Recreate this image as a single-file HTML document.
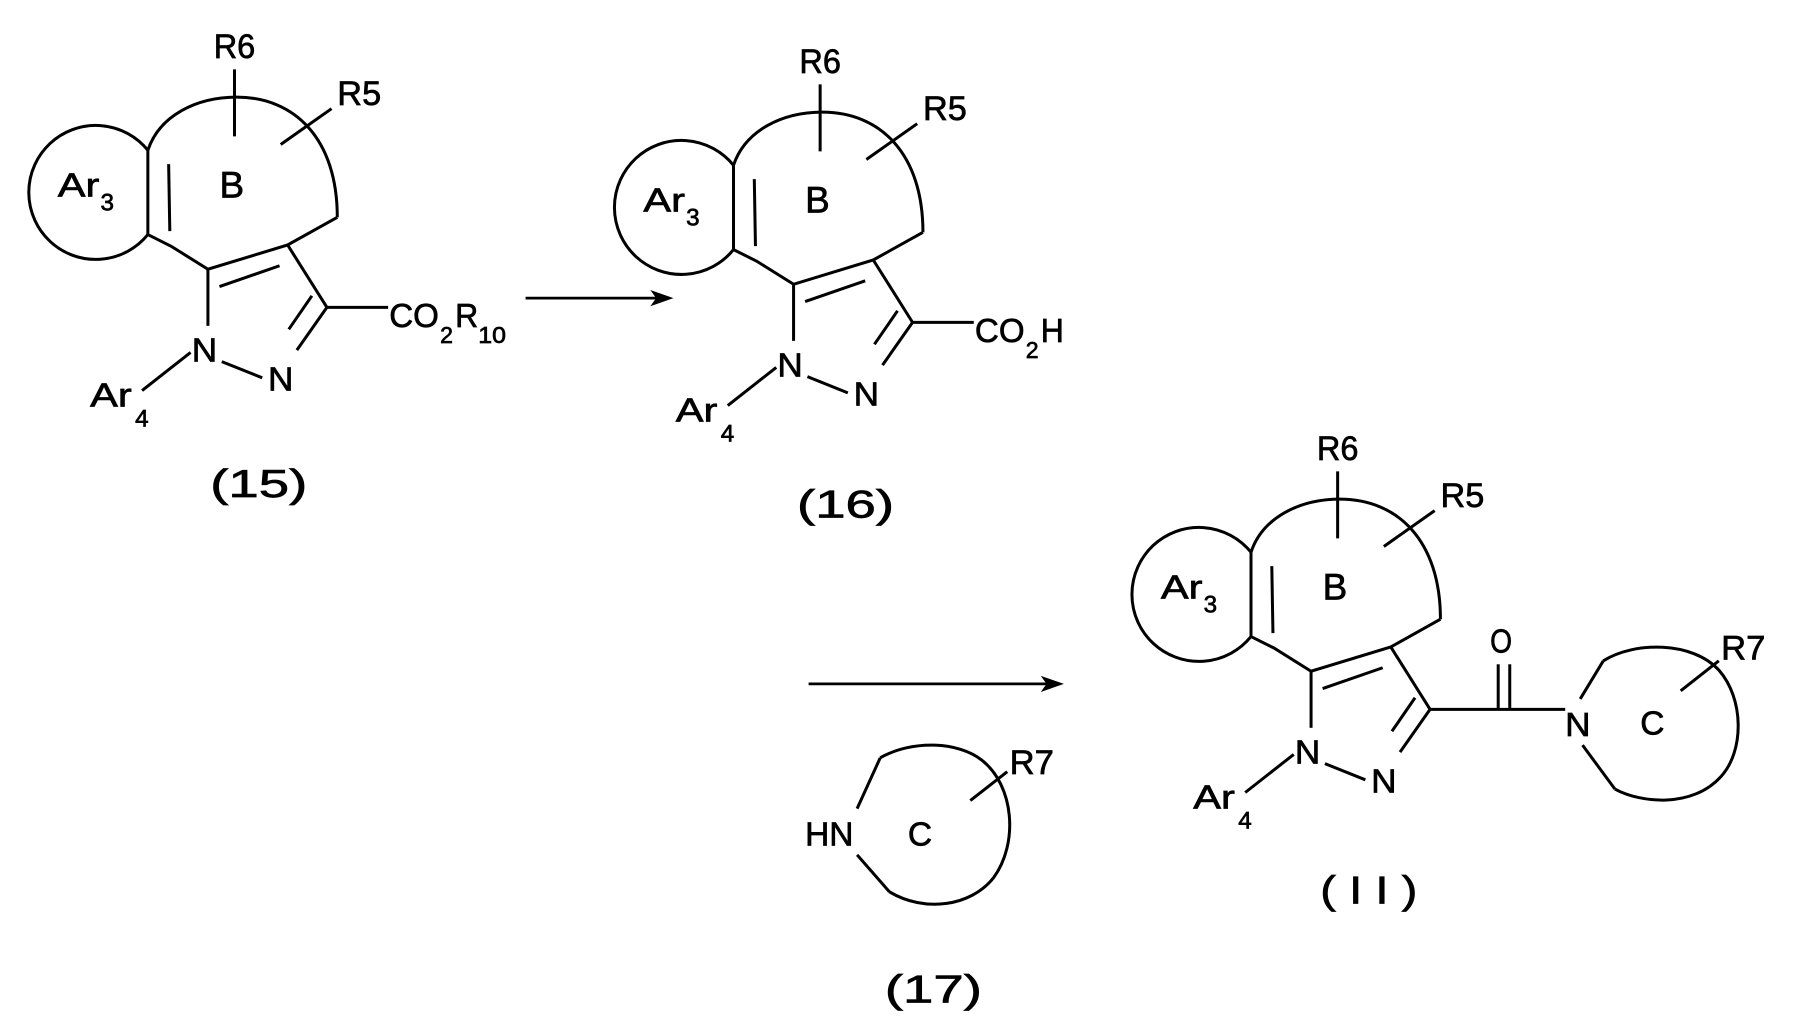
<!DOCTYPE html>
<html><head><meta charset="utf-8"><style>
html,body{margin:0;padding:0;background:#fff;width:1802px;height:1019px;overflow:hidden}
svg{display:block}
text{font-family:"Liberation Sans",sans-serif;fill:#000;stroke:#000;stroke-width:0.6}
</style></head><body>
<svg width="1802" height="1019" viewBox="0 0 1560 882" xmlns="http://www.w3.org/2000/svg">
<defs>
<g id="core" fill="none" stroke="#000" stroke-width="2.6">
  <path d="M128 130 A58 58 0 1 0 128 203"/>
  <path d="M128 130 C138 100 170 84 205 84 C255 84 292 120 292 188"/>
  <line x1="128" y1="130" x2="128" y2="203"/>
  <line x1="146" y1="142" x2="147" y2="200"/>
  <polyline points="128,203 148,213 180,233 249,212 292,188"/>
  <line x1="190" y1="248" x2="242" y2="230"/>
  <line x1="249" y1="212" x2="283" y2="266"/>
  <line x1="283" y1="266" x2="257" y2="303"/>
  <line x1="270" y1="256" x2="250" y2="285"/>
  <line x1="180" y1="233" x2="180" y2="282"/>
  <line x1="192" y1="313" x2="227" y2="327"/>
  <line x1="165" y1="305" x2="123" y2="338"/>
  <line x1="203" y1="60" x2="203" y2="118"/>
  <line x1="243" y1="125" x2="287" y2="94"/>
</g>
<g id="coretext">
  <text x="185" y="50" font-size="30" textLength="36" lengthAdjust="spacingAndGlyphs">R6</text>
  <text x="292" y="91" font-size="30" textLength="38" lengthAdjust="spacingAndGlyphs">R5</text>
  <text x="50" y="170" font-size="29" textLength="36" lengthAdjust="spacingAndGlyphs">Ar</text><text x="87" y="182" font-size="21">3</text>
  <text x="190" y="171" font-size="32">B</text>
  <text x="166" y="313" font-size="29" textLength="22" lengthAdjust="spacingAndGlyphs">N</text>
  <text x="232" y="338" font-size="29" textLength="22" lengthAdjust="spacingAndGlyphs">N</text>
  <text x="78" y="352" font-size="29" textLength="36" lengthAdjust="spacingAndGlyphs">Ar</text>
  <text x="117" y="369" font-size="21">4</text>
</g>
</defs>

<!-- (15) -->
<use href="#core"/><use href="#coretext"/>
<line x1="283" y1="266" x2="336" y2="266" stroke="#000" stroke-width="2.6"/>
<text x="337" y="283" font-size="29" textLength="43" lengthAdjust="spacingAndGlyphs">CO</text>
<text x="381" y="297" font-size="20">2</text>
<text x="394" y="283" font-size="29" textLength="20" lengthAdjust="spacingAndGlyphs">R</text>
<text x="414" y="297" font-size="20" textLength="24" lengthAdjust="spacingAndGlyphs">10</text>
<text x="182" y="430" font-size="34" textLength="84" lengthAdjust="spacingAndGlyphs">(15)</text>

<!-- arrow 1 -->
<line x1="455" y1="258" x2="575" y2="258" stroke="#000" stroke-width="2.4"/>
<path d="M583 258 L563 251 L568 258 L563 265 Z" fill="#000"/>

<!-- (16) -->
<g transform="translate(507,13)"><use href="#core"/><use href="#coretext"/>
<line x1="283" y1="266" x2="336" y2="266" stroke="#000" stroke-width="2.6"/>
<text x="337" y="283" font-size="29" textLength="43" lengthAdjust="spacingAndGlyphs">CO</text>
<text x="381" y="297" font-size="20">2</text>
<text x="394" y="283" font-size="29" textLength="20" lengthAdjust="spacingAndGlyphs">H</text>
</g>
<text x="690" y="448" font-size="34" textLength="84" lengthAdjust="spacingAndGlyphs">(16)</text>

<!-- arrow 2 -->
<line x1="700" y1="592" x2="912" y2="592" stroke="#000" stroke-width="2.4"/>
<path d="M921 592 L901 585 L906 592 L901 599 Z" fill="#000"/>

<!-- (17) -->
<g fill="none" stroke="#000" stroke-width="2.6">
  <path d="M762 656 C790 640 830 642 850 658 C878 680 882 730 860 760 C840 785 800 790 770 772"/>
  <line x1="762" y1="656" x2="742" y2="700"/>
  <line x1="742" y1="740" x2="770" y2="772"/>
  <line x1="840" y1="693" x2="872" y2="668"/>
</g>
<text x="697" y="732" font-size="29">HN</text>
<text x="786" y="732" font-size="29">C</text>
<text x="874" y="670" font-size="30">R7</text>
<text x="766" y="868" font-size="34" textLength="84" lengthAdjust="spacingAndGlyphs">(17)</text>

<!-- (11) -->
<g transform="translate(955,348)"><use href="#core"/><use href="#coretext"/></g>
<g fill="none" stroke="#000" stroke-width="2.6">
  <line x1="1238" y1="614" x2="1355" y2="614"/>
  <line x1="1297" y1="614" x2="1297" y2="575"/>
  <line x1="1307" y1="614" x2="1307" y2="575"/>
  <path d="M1388 572 C1415 555 1465 555 1488 580 C1510 605 1510 650 1490 672 C1465 700 1420 695 1398 683"/>
  <line x1="1388" y1="572" x2="1368" y2="605"/>
  <line x1="1370" y1="645" x2="1398" y2="683"/>
  <line x1="1455" y1="598" x2="1488" y2="572"/>
</g>
<text x="1290" y="565" font-size="29" textLength="19" lengthAdjust="spacingAndGlyphs">O</text>
<text x="1355" y="637" font-size="29" textLength="22" lengthAdjust="spacingAndGlyphs">N</text>
<text x="1420" y="636" font-size="29">C</text>
<text x="1490" y="571" font-size="30">R7</text>
<text x="1143" y="782" font-size="34" textLength="84" lengthAdjust="spacingAndGlyphs">( I I )</text>
</svg>
</body></html>
